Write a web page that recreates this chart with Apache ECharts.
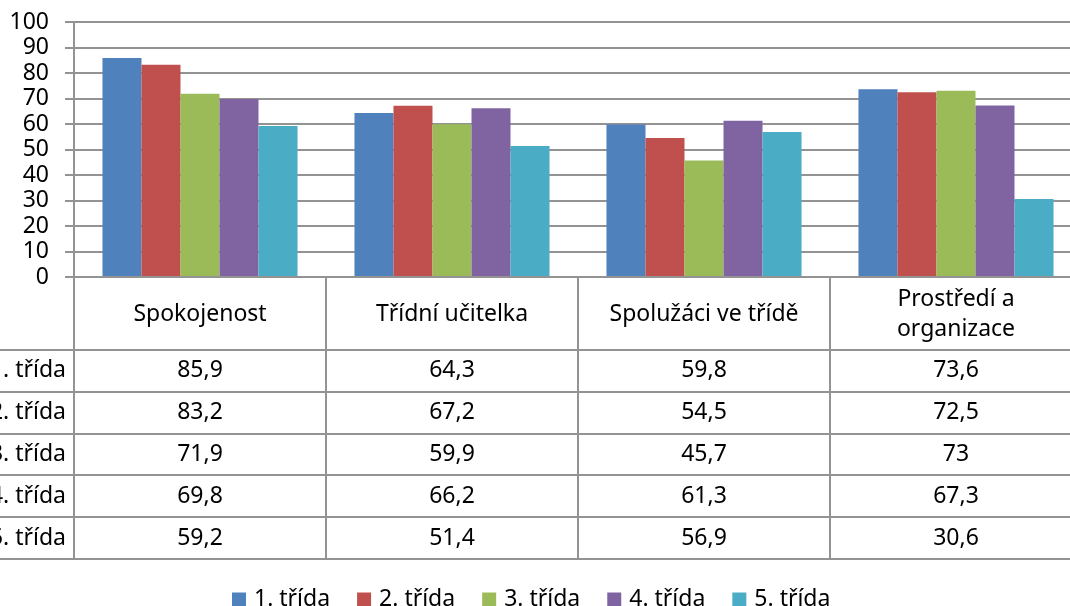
<!DOCTYPE html>
<html>
<head>
<meta charset="utf-8">
<script src="https://cdn.jsdelivr.net/npm/echarts@6/dist/echarts.min.js"></script>
<style>
  html, body { margin: 0; padding: 0; background: #fff; overflow: hidden; }
  /* graf přesahuje pravý okraj obrázku */
  #chart { width: 1082px; height: 606px; }
</style>
</head>
<body>
<div id="chart"></div>
<script>
// kategorie a hodnoty (čteno z obrázku)
var categories = ['Spokojenost', 'Třídní učitelka', 'Spolužáci ve třídě', 'Prostředí a\norganizace']
var seriesNames = ['1. třída', '2. třída', '3. třída', '4. třída', '5. třída']
var trida1 = [85.9, 64.3, 59.8, 73.6]
var trida2 = [83.2, 67.2, 54.5, 72.5]
var trida3 = [71.9, 59.9, 45.7, 73]
var trida4 = [69.8, 66.2, 61.3, 67.3]
var trida5 = [59.2, 51.4, 56.9, 30.6]
var yTicks = [0, 10, 20, 30, 40, 50, 60, 70, 80, 90, 100]

var allData = [trida1, trida2, trida3, trida4, trida5]
var colors = ['#4F81BD', '#C0504D', '#9BBB59', '#8064A2', '#4BACC6']
var FONT = 'Noto Sans'
var FS = 23
var lineColor = '#939393'
var LW = 2

var myChart = echarts.init(document.getElementById('chart'))

myChart.setOption({
  animation: false,
  textStyle: { fontFamily: FONT },
  grid: { left: 74, right: 0, top: 22, height: 255 },
  legend: {
    data: seriesNames,
    left: 232,
    top: 588,
    padding: 0,
    itemWidth: 14,
    itemHeight: 14,
    itemGap: 27,
    icon: 'rect',
    textStyle: { fontFamily: FONT, fontSize: FS, color: '#000', padding: [0, 0, 0, 3] }
  },
  xAxis: {
    type: 'category',
    data: categories,
    z: 5,
    axisLine: { show: true, lineStyle: { color: lineColor, width: LW } },
    // tick na hranicích kategorií = svislé čáry tabulky
    axisTick: { show: true, length: 282, lineStyle: { color: lineColor, width: LW } },
    axisLabel: {
      interval: 0,
      margin: 37,
      verticalAlign: 'middle',
      lineHeight: 30,
      fontFamily: FONT,
      fontSize: FS,
      color: '#000'
    }
  },
  yAxis: {
    type: 'value',
    min: yTicks[0],
    max: yTicks[yTicks.length - 1],
    interval: 10,
    axisLine: { show: true, lineStyle: { color: lineColor, width: LW } },
    axisTick: { show: true, length: 9, lineStyle: { color: lineColor, width: LW } },
    axisLabel: { margin: 25, fontFamily: FONT, fontSize: FS, color: '#000' },
    splitLine: { show: true, lineStyle: { color: lineColor, width: LW } }
  },
  series: seriesNames.map(function (name, i) {
    return {
      name: name,
      type: 'bar',
      data: allData[i],
      barGap: '0%',
      barCategoryGap: '22.6%',
      itemStyle: { color: colors[i] }
    }
  })
})

// tabulka dat pod grafem
var zeroY = myChart.convertToPixel({ yAxisIndex: 0 }, 0)
var headerBottom = zeroY + 73
var rowH = 41.8
var graphics = []
for (var r = 0; r <= seriesNames.length; r++) {
  var y = Math.round(headerBottom + r * rowH)
  graphics.push({
    type: 'line',
    shape: { x1: 0, y1: y, x2: 1082, y2: y },
    style: { stroke: lineColor, lineWidth: LW }
  })
}
seriesNames.forEach(function (name, r) {
  var cy = headerBottom + r * rowH + rowH / 2
  graphics.push({
    type: 'text',
    x: 66,
    y: cy,
    style: { text: name, font: FS + 'px "' + FONT + '"', fill: '#000', align: 'right', verticalAlign: 'middle' }
  })
  allData[r].forEach(function (v, c) {
    var cx = myChart.convertToPixel({ xAxisIndex: 0 }, categories[c])
    graphics.push({
      type: 'text',
      x: cx,
      y: cy,
      style: { text: String(v).replace('.', ','), font: FS + 'px "' + FONT + '"', fill: '#000', align: 'center', verticalAlign: 'middle' }
    })
  })
})
myChart.setOption({ graphic: graphics })
</script>
</body>
</html>
